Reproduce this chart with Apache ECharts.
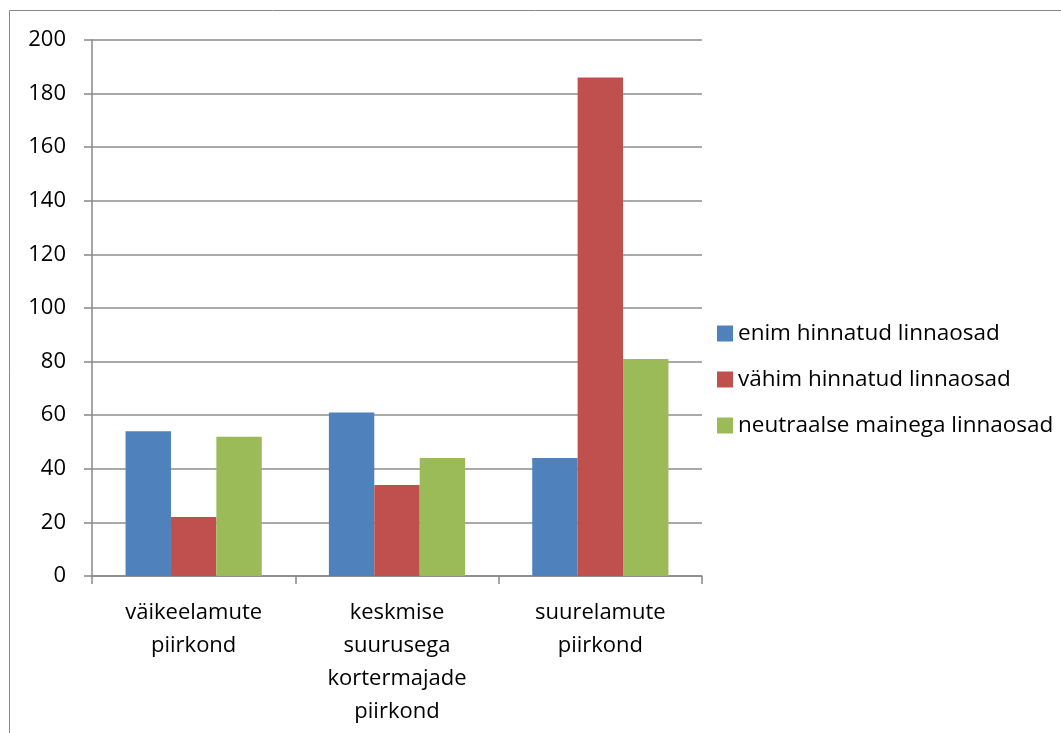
<!DOCTYPE html>
<html><head><meta charset="utf-8">
<script src="https://cdn.jsdelivr.net/npm/echarts@6/dist/echarts.min.js"></script>
<style>html,body{margin:0;padding:0;background:#fff}#c{width:1061px;height:733px}</style>
</head><body><div id="c"></div>
<script>
const categories = ['väikeelamute\npiirkond', 'keskmise\nsuurusega\nkortermajade\npiirkond', 'suurelamute\npiirkond'];
const seriesNames = ['enim hinnatud linnaosad', 'vähim hinnatud linnaosad', 'neutraalse mainega linnaosad'];
const enim = [54, 61, 44];
const vahim = [22, 34, 186];
const neutraalne = [52, 44, 81];
const colors = ['#4F81BD', '#C0504D', '#9BBB59'];
const FONT = '"Open Sans", "Noto Sans", sans-serif';
const FS = 22;

const chart = echarts.init(document.getElementById('c'), null, {renderer: 'canvas'});
const values = [enim, vahim, neutraalne];
chart.setOption({
  animation: false,
  textStyle: {fontFamily: FONT},
  graphic: [{
    type: 'rect', shape: {x: 9.5, y: 10.5, width: 1060, height: 730},
    style: {fill: 'none', stroke: '#898989', lineWidth: 1}, silent: true
  }],
  grid: {left: 92, right: 359, top: 40, bottom: 157, containLabel: false},
  legend: {
    orient: 'vertical', left: 712, top: 317, itemWidth: 16, itemHeight: 16,
    icon: 'rect', itemGap: 23,
    textStyle: {fontSize: 22.5, lineHeight: 22, color: '#000', fontFamily: FONT},
    data: seriesNames
  },
  xAxis: {
    type: 'category', data: categories,
    axisLine: {lineStyle: {color: '#888', width: 1.5}},
    axisTick: {show: true, length: 8, lineStyle: {color: '#888', width: 1.5}},
    axisLabel: {fontSize: FS, color: '#000', lineHeight: 33, margin: 20, interval: 0, fontFamily: FONT}
  },
  yAxis: {
    type: 'value', min: 0, max: 200, interval: 20,
    axisLine: {show: true, lineStyle: {color: '#888', width: 1.5}},
    axisTick: {show: true, length: 8, lineStyle: {color: '#888', width: 1.5}},
    splitLine: {lineStyle: {color: '#8c8c8c', width: 1.5}},
    axisLabel: {fontSize: FS, color: '#000', margin: 26, fontFamily: FONT}
  },
  series: seriesNames.map((n, i) => ({
    name: n, type: 'bar', data: values[i], barGap: '0%', barCategoryGap: '33%',
    itemStyle: {color: colors[i]}
  }))
});
</script></body></html>
